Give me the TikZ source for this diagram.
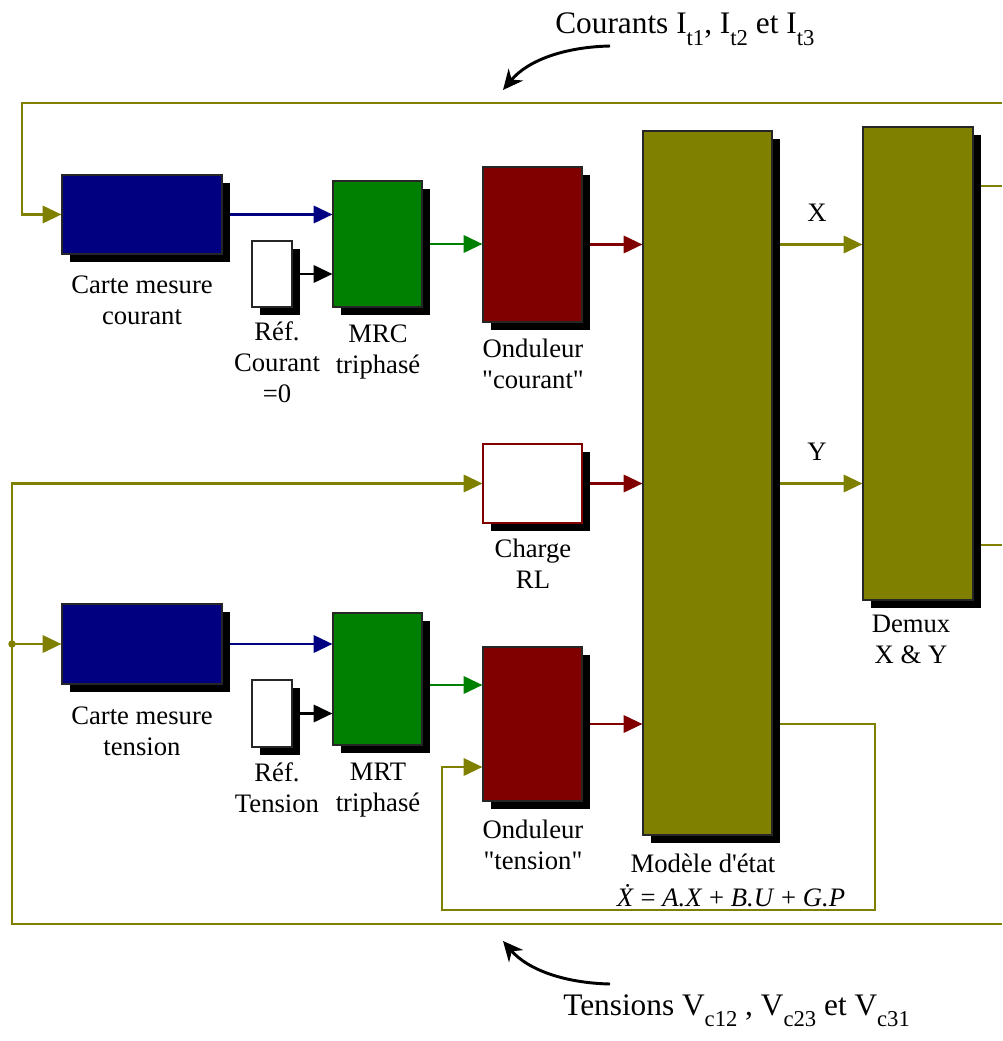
\documentclass[tikz,border=0pt]{standalone}
\usepackage{fontspec}
\setmainfont{Liberation Serif}
\usetikzlibrary{arrows.meta,shadows,fit,calc}
\definecolor{navyb}{RGB}{0,0,128}
\definecolor{greenb}{RGB}{0,128,0}
\definecolor{maroonb}{RGB}{128,0,0}
\definecolor{oliveb}{RGB}{128,128,0}
\pgfdeclarelayer{bg}
\pgfsetlayers{bg,main}
\newcommand\lab{\fontsize{20}{23.3}\selectfont}
\newcommand\sbs[1]{\raisebox{-0.36em}{\fontsize{17}{17}\selectfont #1}}
\begin{document}
\begin{tikzpicture}[x=0.75pt,y=-0.75pt,
  blk/.style={inner sep=0pt, draw=black!85, line width=0.9pt,
    drop shadow={shadow xshift=6pt,shadow yshift=-6pt,fill=black,opacity=1}},
  lbl/.style={align=center,font=\lab,inner sep=0pt},
  conn/.style={line width=1.6pt},
  arr/.style={conn,-{Triangle[length=14pt,width=13pt]}},
  bigarr/.style={line width=2.2pt,-{Stealth[length=15pt,width=14pt]}},
]
\path[use as bounding box] (0,0) rectangle (1002,1041);

% blocks
\node[blk,fill=navyb,fit={(62,175)(222,254)}] (carteC) {};
\node[blk,fill=white,fit={(252,241)(292,307)}] (refC) {};
\node[blk,fill=greenb,fit={(333,181)(422,307)}] (mrc) {};
\node[blk,fill=maroonb,fit={(483,167)(582,322)}] (ondC) {};
\node[blk,fill=oliveb,fit={(643,131)(772,835)}] (model) {};
\node[blk,fill=oliveb,fit={(863,127)(973,600)}] (demux) {};
\node[blk,fill=white,draw=maroonb,fit={(483,444)(582,523)}] (charge) {};
\node[blk,fill=navyb,fit={(62,604)(222,684)}] (carteT) {};
\node[blk,fill=white,fit={(252,680)(292,747)}] (refT) {};
\node[blk,fill=greenb,fit={(333,613)(422,745)}] (mrt) {};
\node[blk,fill=maroonb,fit={(483,647)(582,801)}] (ondT) {};

% labels
\node[lbl] (lCarteC) at (142,300) {Carte mesure\\courant};
\node[lbl] (lRefC) at (277,362) {Réf.\\Courant\\=0};
\node[lbl] (lMrc) at (378,352) {MRC\\triphasé};
\node[lbl] (lOndC) at (533,364) {Onduleur\\\textquotedbl courant\textquotedbl};
\node[lbl] (lCharge) at (533,564) {Charge\\RL};
\node[lbl] (lCarteT) at (142,731) {Carte mesure\\tension};
\node[lbl] (lRefT) at (277,788) {Réf.\\Tension};
\node[lbl] (lMrt) at (378,790) {MRT\\triphasé};
\node[lbl] (lOndT) at (533,845) {Onduleur\\\textquotedbl tension\textquotedbl};
\node[lbl] (lModel) at (703,863) {Modèle d\textquotesingle état};
\node[lbl] (lEq) at (731,896) {\textit{Ẋ} = \textit{A.X} + \textit{B.U} + \textit{G.P}};
\node[lbl] (lDemux) at (911,639) {Demux\\X \& Y};
\node[lbl] (lX) at (817,213) {X};
\node[lbl] (lY) at (817,452) {Y};

\node[font=\fontsize{23.5}{23.5}\selectfont,inner sep=0pt,anchor=base west] (tI) at (555,34)
  {Courants I\sbs{t1}, I\sbs{t2} et I\sbs{t3}};
\node[font=\fontsize{23.5}{23.5}\selectfont,inner sep=0pt,anchor=base west] (tV) at (563,1015)
  {Tensions V\sbs{c12} , V\sbs{c23} et V\sbs{c31}};

% free ends
\coordinate (fbTopR) at (1002,103);
\coordinate (fbTopL) at (22,103);
\coordinate (fbBotR) at (1002,924);
\coordinate (fbBotL) at (12,924);
\coordinate (dOut1) at (1002,186);
\coordinate (dOut2) at (1002,545);
\coordinate (loopR) at (875,910);
\coordinate (loopL) at (442,910);
\coordinate (mrtOut) at ($(mrt.east)+(0,6)$);
\coordinate (ondTin) at ($(ondT.west)+(0,43)$);
\coordinate (split) at (fbBotL |- carteT.west);

\begin{pgfonlayer}{bg}
\draw[arr,oliveb] (fbTopR) -- (fbTopL) |- (carteC.west);
\draw[arr,navyb] (carteC.east) -- (carteC.east -| mrc.west);
\draw[arr,black] (refC.east) -- (refC.east -| mrc.west);
\draw[arr,greenb] (mrc.east) -- (mrc.east -| ondC.west);
\draw[arr,maroonb] (ondC.east) -- (ondC.east -| model.west);
\draw[arr,oliveb] (ondC.east -| model.east) -- (ondC.east -| demux.west);
\draw[arr,maroonb] (charge.east) -- (charge.east -| model.west);
\draw[arr,oliveb] (charge.east -| model.east) -- (charge.east -| demux.west);
\draw[conn,oliveb] (dOut1 -| demux.east) -- (dOut1);
\draw[conn,oliveb] (dOut2 -| demux.east) -- (dOut2);
\draw[arr,oliveb] (fbBotR) -- (fbBotL) |- (charge.west);
\draw[arr,oliveb] (split) -- (carteT.west);
\fill[oliveb] (split) circle[radius=2.8pt];
\draw[arr,navyb] (carteT.east) -- (carteT.east -| mrt.west);
\draw[arr,black] (refT.east) -- (refT.east -| mrt.west);
\draw[arr,greenb] (mrtOut) -- (mrtOut -| ondT.west);
\draw[arr,maroonb] (ondT.east) -- (ondT.east -| model.west);
\draw[arr,oliveb] (ondT.east -| model.east) -| (loopR) -- (loopL) |- (ondTin);
\end{pgfonlayer}

% curved pointer arrows
\coordinate (cTs) at (610,46);
\coordinate (cTe) at (503,90);
\coordinate (cBs) at (610,984);
\coordinate (cBe) at (503,941);
\draw[bigarr] (cTs) .. controls (565,47) and (528,60) .. (cTe);
\draw[bigarr] (cBs) .. controls (565,983) and (528,970) .. (cBe);
\end{tikzpicture}
\end{document}
